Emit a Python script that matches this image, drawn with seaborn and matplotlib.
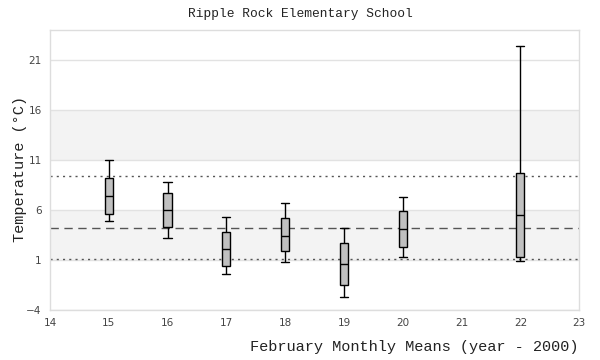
import matplotlib

matplotlib.use("Agg")
import matplotlib.pyplot as plt  # noqa: E402
import seaborn as sns  # noqa: E402
import pandas as pd  # noqa: E402

# Year offsets (year - 2000) and five-number summaries
years = [15, 16, 17, 18, 19, 20, 22]
lows = [4.9, 3.2, -0.4, 0.8, -2.7, 1.3, 0.9]
q1s = [5.6, 4.3, 0.4, 1.9, -1.5, 2.3, 1.3]
medians = [7.4, 6.0, 2.1, 3.4, 0.6, 4.1, 5.5]
q3s = [9.2, 7.7, 3.8, 5.2, 2.7, 5.9, 9.7]
highs = [11.0, 8.8, 5.3, 6.7, 4.2, 7.3, 22.4]

# Reference lines
upper_ref = 9.4
mean_ref = 4.2
lower_ref = 1.1

y_ticks = [-4, 1, 6, 11, 16, 21]
bands = [(1, 6), (11, 16)]

rows = []
for yr, lo, a, m, b, hi in zip(years, lows, q1s, medians, q3s, highs):
    for v in (lo, a, m, b, hi):
        rows.append({"year": yr, "temp": v})
df = pd.DataFrame(rows)

sns.set_style("white")
MONO = ["Liberation Mono", "DejaVu Sans Mono"]

fig = plt.figure(figsize=(6, 3.6), dpi=100)
ax = fig.add_axes([0.0833, 0.139, 0.882, 0.778])

for lo, hi in bands:
    ax.axhspan(lo, hi, color="#f3f3f3", zorder=0, lw=0)
for t in y_ticks:
    ax.axhline(t, color="#e2e2e2", lw=1, zorder=0.5)

ax.axhline(upper_ref, color="#555555", lw=1, ls=(0, (1.5, 3)), zorder=1)
ax.axhline(lower_ref, color="#555555", lw=1, ls=(0, (1.5, 3)), zorder=1)
ax.axhline(mean_ref, color="#555555", lw=1, ls=(0, (6, 4)), zorder=1)

sns.boxplot(
    data=df, x="year", y="temp", native_scale=True, whis=100,
    width=0.14, color="#c0c0c0", linecolor="black", linewidth=1,
    showfliers=False, capwidths=0.14, ax=ax, zorder=3,
)

ax.set_xlim(14, 23)
ax.set_ylim(-4, 24)
ax.set_xticks(range(14, 24))
ax.set_yticks(y_ticks)
ax.tick_params(axis="both", length=0, labelsize=7.5, colors="#444444", pad=6)
for sp in ax.spines.values():
    sp.set_color("#dddddd")
    sp.set_linewidth(1)

ax.set_xlabel("")
ax.set_ylabel("")
fig.text(0.5, 0.96, "Ripple Rock Elementary School", ha="center", va="center",
         fontsize=9.3, family=MONO, color="#222222")
fig.text(0.033, 0.53, "Temperature (°C)", ha="center", va="center",
         rotation=90, fontsize=11, family=MONO, color="#222222")
fig.text(0.965, 0.035, "February Monthly Means (year - 2000)", ha="right",
         va="center", fontsize=11, family=MONO, color="#222222")

fig.savefig("out.png", dpi=100)
